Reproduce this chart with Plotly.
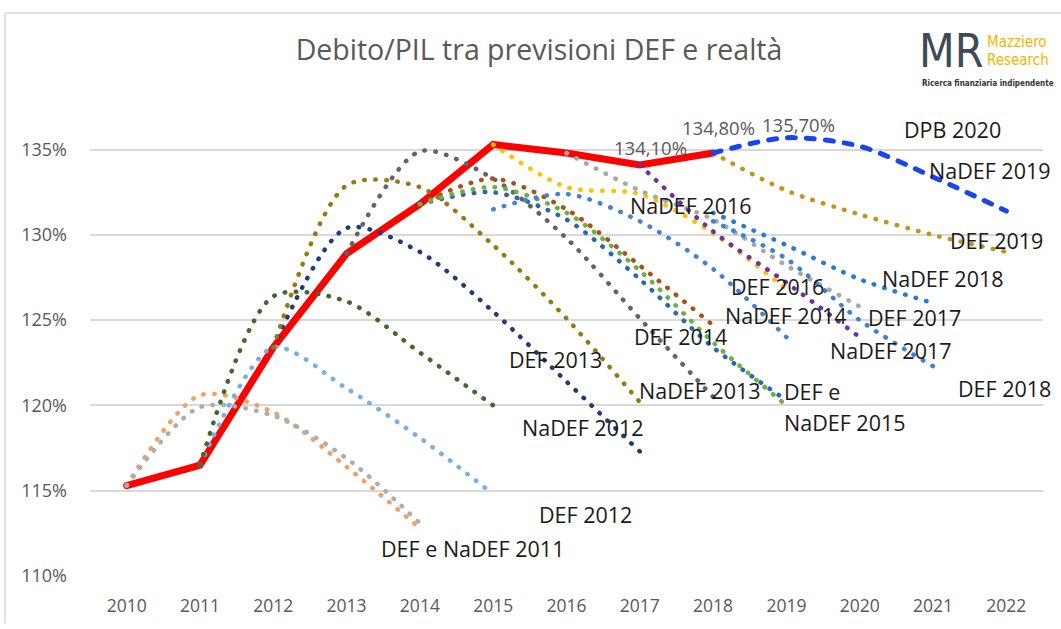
import plotly.graph_objects as go

years = list(range(2010, 2023))
N = None

actual    = [115.3, 116.5, 123.4, 128.9, 131.8, 135.3, 134.8, 134.1, 134.8, N, N, N, N]
def2011   = [115.3, 120.6, 119.6, 116.4, 112.8, N, N, N, N, N, N, N, N]
nadef2011 = [115.3, 119.9, 119.4, 116.9, 113.1, N, N, N, N, N, N, N, N]
def2012   = [N, 116.5, 123.4, 121.0, 118.1, 114.8, N, N, N, N, N, N, N]
nadef2012 = [N, 116.5, 126.4, 126.1, 123.1, 120.0, N, N, N, N, N, N, N]
def2013   = [N, N, 123.4, 130.4, 129.0, 125.5, 121.4, 117.3, N, N, N, N, N]
nadef2013 = [N, N, 123.4, 132.9, 132.8, 129.4, 125.1, 120.2, N, N, N, N, N]
def2014   = [N, N, N, 128.9, 134.9, 133.3, 129.8, 125.1, 120.5, N, N, N, N]
nadef2014 = [N, N, N, N, 131.8, 133.3, 131.5, 128.2, 124.7, N, N, N, N]
def2015   = [N, N, N, N, 131.8, 132.5, 130.9, 127.4, 123.4, 120.3, N, N, N]
nadef2015 = [N, N, N, N, 131.8, 132.8, 131.3, 127.9, 123.7, 120.0, N, N, N]
def2016   = [N, N, N, N, N, 131.5, 132.4, 130.8, 128.0, 124.0, N, N, N]
nadef2016 = [N, N, N, N, N, 135.3, 132.8, 132.4, 130.1, 126.8, N, N, N]
def2017   = [N, N, N, N, N, N, 134.8, 132.6, 130.9, 128.2, 125.8, N, N]
nadef2017 = [N, N, N, N, N, N, N, 134.1, 130.2, 127.2, 124.0, N, N]
def2018   = [N, N, N, N, N, N, N, N, 130.8, 128.6, 125.0, 122.3, N]
nadef2018 = [N, N, N, N, N, N, N, N, 131.3, 129.4, 127.4, 126.0, N]
def2019   = [N, N, N, N, N, N, N, N, 134.8, 132.6, 131.2, 130.0, 129.0]
nadef2019 = [N, N, N, N, N, N, N, N, 134.8, 135.7, 135.2, 133.4, 131.4]

y_ticks = [110, 115, 120, 125, 130, 135]
y_tick_labels = ["110%", "115%", "120%", "125%", "130%", "135%"]

# dotted forecast series: (name, values, colour)
forecasts = [
    ("DEF 2011", def2011, "#F4A063"),
    ("NaDEF 2011", nadef2011, "#ADADAD"),
    ("DEF 2012", def2012, "#78B0E4"),
    ("NaDEF 2012", nadef2012, "#42692B"),
    ("DEF 2013", def2013, "#1E3C78"),
    ("NaDEF 2013", nadef2013, "#9A780F"),
    ("DEF 2014", def2014, "#646464"),
    ("NaDEF 2014", nadef2014, "#AA5018"),
    ("DEF 2015", def2015, "#2868AC"),
    ("NaDEF 2015", nadef2015, "#6CB042"),
    ("DEF 2016", def2016, "#4682CE"),
    ("NaDEF 2016", nadef2016, "#FFC000"),
    ("DEF 2017", def2017, "#A8A8A8"),
    ("NaDEF 2017", nadef2017, "#7030A0"),
    ("DEF 2018", def2018, "#3784D6"),
    ("NaDEF 2018", nadef2018, "#267CD2"),
    ("DEF 2019", def2019, "#C29418"),
]

# text labels: (text, pixel centre x, pixel centre y)
labels = [
    ("DPB 2020", 952, 130), ("NaDEF 2019", 990, 171), ("NaDEF 2016", 691, 207),
    ("DEF 2019", 996, 242), ("NaDEF 2018", 943, 280), ("DEF 2016", 777, 288),
    ("NaDEF 2014", 786, 318), ("DEF 2017", 914, 320), ("DEF 2014", 680, 339),
    ("NaDEF 2017", 891, 353), ("DEF 2013", 555, 362), ("DEF 2018", 1004, 392),
    ("NaDEF 2013", 700, 394), ("DEF e", 812, 395), ("NaDEF 2015", 845, 426),
    ("NaDEF 2012", 583, 431), ("DEF 2012", 585, 519), ("DEF e NaDEF 2011", 472, 553),
]

W, H = 1061, 629
L, R, T, B = 90, 18, 107, 48


def px(x):
    return (x - L) / (W - L - R)


def py(y):
    return (H - B - y) / (H - T - B)


fig = go.Figure()

fig.add_trace(go.Scatter(x=years, y=actual, mode="lines", name="Realtà",
                         line=dict(color="#FF0000", width=7), connectgaps=False))

for name, vals, col in forecasts:
    fig.add_trace(go.Scatter(x=years, y=vals, mode="lines", name=name,
                             line=dict(color=col, width=4.5, dash="0.5px,10.5px",
                                       shape="spline", smoothing=0.8)))

fig.add_trace(go.Scatter(x=years, y=nadef2019, mode="lines", name="NaDEF 2019 / DPB 2020",
                         line=dict(color="#1A44F0", width=5, dash="8px,11px",
                                   shape="spline", smoothing=0.8)))

LABEL_FONT = dict(family="Open Sans", size=21.5, color="#1A1A1A")
annotations = []
for text, x, y in labels:
    annotations.append(dict(text=text, x=px(x), y=py(y), xref="paper", yref="paper",
                            showarrow=False, xanchor="center", yanchor="middle",
                            font=LABEL_FONT))

# value labels read from the series
def fmt(v):
    return f"{v:.2f}".replace(".", ",") + "%"

value_labels = [(2017, actual[7], 11, 17), (2018, actual[8], 5, 26), (2019, nadef2019[9], 12, 13)]
for yr, v, dx, dy in value_labels:
    annotations.append(dict(text=fmt(v), x=yr, y=v, xref="x", yref="y", showarrow=False,
                            xshift=dx, yshift=dy,
                            font=dict(family="Open Sans", size=18.5, color="#595959")))

# logo
LOGO_FAMILY = "DejaVu Sans Condensed, Liberation Sans Narrow, DejaVu Sans"
annotations += [
    dict(text="MR", x=px(985), y=py(50), xref="paper", yref="paper", showarrow=False,
         xanchor="right", yanchor="middle",
         font=dict(family=LOGO_FAMILY, size=46, color="#3D4B57")),
    dict(text="Mazziero", x=px(985), y=py(41), xref="paper", yref="paper", showarrow=False,
         xanchor="left", yanchor="middle",
         font=dict(family=LOGO_FAMILY, size=15, color="#F2B400")),
    dict(text="Research", x=px(985), y=py(59), xref="paper", yref="paper", showarrow=False,
         xanchor="left", yanchor="middle",
         font=dict(family=LOGO_FAMILY, size=15, color="#F2B400")),
    dict(text="<b>Ricerca finanziaria indipendente</b>", x=px(920), y=py(83), xref="paper",
         yref="paper", showarrow=False, xanchor="left", yanchor="middle",
         font=dict(family=LOGO_FAMILY, size=8, color="#333333")),
]

shapes = [
    dict(type="line", xref="paper", yref="paper", x0=px(5), x1=px(5), y0=py(629), y1=py(12),
         line=dict(color="#D9D9D9", width=1.5)),
    dict(type="line", xref="paper", yref="paper", x0=px(5), x1=px(1061), y0=py(12), y1=py(12),
         line=dict(color="#D9D9D9", width=1.5)),
]

fig.update_layout(
    width=W, height=H,
    margin=dict(l=L, r=R, t=T, b=B),
    paper_bgcolor="white", plot_bgcolor="white",
    showlegend=False,
    title=dict(text="Debito/PIL tra previsioni DEF e realtà", x=539 / W, xanchor="center",
               y=1 - 50 / H, yanchor="middle", yref="container",
               font=dict(family="Open Sans", size=28.5, color="#595959")),
    xaxis=dict(range=[2009.5, 2022.5], tickvals=years, ticktext=[str(y) for y in years],
               showgrid=False, zeroline=False, showline=False,
               tickfont=dict(family="Open Sans", size=17.5, color="#595959"),
               ticklabelstandoff=17),
    yaxis=dict(range=[110, 137.5], tickvals=y_ticks, ticktext=y_tick_labels,
               showgrid=True, gridcolor="#D9D9D9", gridwidth=1.5, zeroline=False, showline=False,
               tickfont=dict(family="Open Sans", size=18, color="#595959"),
               ticklabelstandoff=22),
    annotations=annotations,
    shapes=shapes,
    hovermode=False,
)

post = """
document.body.style.margin = '0';
document.body.style.overflow = 'hidden';
var st = document.createElement('style');
st.textContent = '.js-line { stroke-linecap: round; }';
document.head.appendChild(st);
"""

fig.write_html("out.html", post_script=post, config={"displayModeBar": False})
